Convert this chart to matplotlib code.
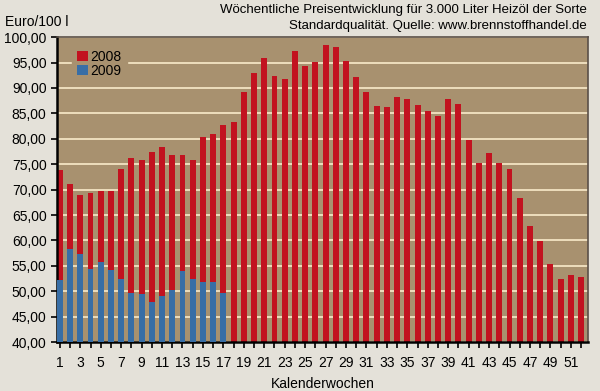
import matplotlib

matplotlib.use("Agg")
import matplotlib.pyplot as plt
from matplotlib.ticker import FuncFormatter, MultipleLocator

plt.rcParams["font.family"] = ["Liberation Sans", "DejaVu Sans"]

weeks_2008 = list(range(1, 53))
prices_2008 = [
    73.9, 71.2, 68.9, 69.3, 69.7, 69.8, 74.0, 76.2, 75.9, 77.5,
    78.4, 76.8, 76.8, 75.8, 80.4, 81.0, 82.7, 83.3, 89.2, 92.9,
    95.9, 92.4, 91.8, 97.3, 94.3, 95.2, 98.4, 98.0, 95.3, 92.2,
    89.3, 86.5, 86.3, 88.3, 87.8, 86.6, 85.5, 84.5, 87.8, 86.8,
    79.7, 75.3, 77.2, 75.3, 74.0, 68.3, 62.8, 59.8, 55.3, 52.5,
    53.2, 52.8,
]
weeks_2009 = list(range(1, 18))
prices_2009 = [
    52.2, 58.3, 57.3, 54.3, 55.7, 54.1, 52.4, 49.7, 49.5, 47.9,
    49.0, 50.2, 53.9, 52.4, 51.8, 51.9, 49.6,
]
xtick_labels = [str(w) if w % 2 else "" for w in weeks_2008]
title_lines = [
    "Wöchentliche Preisentwicklung für 3.000 Liter Heizöl der Sorte",
    "Standardqualität. Quelle: www.brennstoffhandel.de",
]

red = "#c2121f"
blue = "#386ea6"
panel = "#a8916f"
grid_col = "#f3e3c3"

fig = plt.figure(figsize=(6, 3.91), dpi=100, facecolor="#e4e1d9")
ax = fig.add_axes([0.095, 0.125, 0.885, 0.78])
ax.set_facecolor(panel)

ax.bar(weeks_2008, prices_2008, width=0.58, color=red, label="2008", zorder=2)
ax.bar(weeks_2009, prices_2009, width=0.58, color=blue, label="2009", zorder=3)

ax.set_ylim(40, 100)
ax.set_xlim(0.72, 52.68)
ax.yaxis.set_major_locator(MultipleLocator(5))
ax.yaxis.set_major_formatter(FuncFormatter(lambda v, _: f"{v:.2f}".replace(".", ",")))
ax.set_xticks(weeks_2008)
ax.set_xticklabels(xtick_labels)
ax.grid(axis="y", color=grid_col, linewidth=1.3, zorder=1)
ax.set_axisbelow(True)

ax.tick_params(axis="both", labelsize=10, colors="black", length=4, width=1.2)
ax.tick_params(axis="x", length=4, pad=6)
for side in ("left", "bottom"):
    ax.spines[side].set_linewidth(1.8)
    ax.spines[side].set_color("black")
for side in ("top", "right"):
    ax.spines[side].set_linewidth(1.2)
    ax.spines[side].set_color("#5a5048")

ax.set_xlabel("Kalenderwochen", fontsize=10, labelpad=5)
fig.text(0.008, 0.944, "Euro/100 l", fontsize=10, ha="left", va="center")
fig.text(0.978, 0.974, title_lines[0], fontsize=9.5, ha="right", va="center")
fig.text(0.978, 0.934, title_lines[1], fontsize=9.5, ha="right", va="center")

leg = ax.legend(loc="upper left", bbox_to_anchor=(0.02, 0.99), frameon=True,
                fontsize=10, handlelength=0.75, handleheight=0.75,
                handletextpad=0.2, labelspacing=0.0, borderaxespad=0.3)
leg.get_frame().set_facecolor(panel)
leg.get_frame().set_edgecolor(panel)
leg.get_frame().set_alpha(1)
leg.set_zorder(5)

fig.savefig("out.png", dpi=100, facecolor=fig.get_facecolor())
